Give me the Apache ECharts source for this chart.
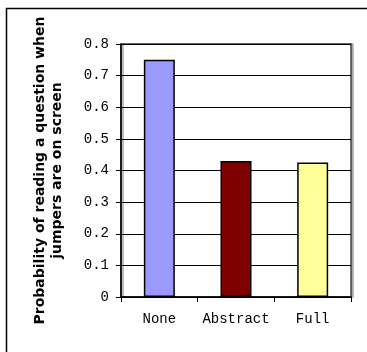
<!DOCTYPE html>
<html><head><meta charset="utf-8">
<script src="https://cdn.jsdelivr.net/npm/echarts@6/dist/echarts.min.js"></script>
<style>html,body{margin:0;padding:0;background:#fff}#c{width:367px;height:352px}</style>
</head><body><div id="c"></div>
<script>
const categories = ['None', 'Abstract', 'Full'];
const values = [0.75, 0.43, 0.425];
const barColors = ['#9999FF', '#800000', '#FFFF99'];
const yTicks = [0, 0.1, 0.2, 0.3, 0.4, 0.5, 0.6, 0.7, 0.8];
const yTitle = 'Probability of reading a question when\njumpers are on screen';

const chart = echarts.init(document.getElementById('c'), null, {renderer: 'canvas'});
chart.setOption({
  animation: false,
  backgroundColor: '#fff',
  graphic: [{
    type: 'rect', shape: {x: 6.5, y: 8.5, width: 500, height: 500},
    style: {fill: 'none', stroke: '#000', lineWidth: 1.5}, silent: true, z: -1
  }],
  grid: {
    left: 121, right: 16, top: 44, bottom: 55, show: true,
    borderColor: '#444', borderWidth: 1.5, backgroundColor: '#fff',
    shadowColor: '#aaa', shadowOffsetX: 2, shadowOffsetY: 0, shadowBlur: 0
  },
  xAxis: {
    type: 'category', data: categories,
    axisLine: {lineStyle: {color: '#000', width: 1.5}},
    axisTick: {show: true, length: 5, lineStyle: {color: '#000'}},
    axisLabel: {interval: 0, fontFamily: 'Liberation Mono', fontSize: 14, color: '#000', margin: 15}
  },
  yAxis: {
    type: 'value', min: 0, max: 0.8, interval: 0.1,
    name: yTitle, nameLocation: 'middle', nameGap: 55, nameRotate: 90,
    nameTextStyle: {fontFamily: 'DejaVu Sans', fontWeight: 'bold', fontSize: 14, color: '#000', lineHeight: 17, align: 'center'},
    axisLine: {show: true, lineStyle: {color: '#000', width: 1.5}},
    axisTick: {show: true, length: 5, lineStyle: {color: '#000'}},
    splitLine: {lineStyle: {color: '#000', width: 1}},
    axisLabel: {
      fontFamily: 'Liberation Mono', fontSize: 14, color: '#000', margin: 12,
      formatter: v => { const t = yTicks.find(x => Math.abs(x - v) < 1e-9); return t === 0 ? '0' : String(+t.toFixed(1)); }
    }
  },
  series: [{
    type: 'bar', barWidth: 31,
    data: values.map((v, i) => ({value: v, itemStyle: {color: barColors[i]}})),
    itemStyle: {borderColor: '#000', borderWidth: 1.5}
  }]
});
</script></body></html>
